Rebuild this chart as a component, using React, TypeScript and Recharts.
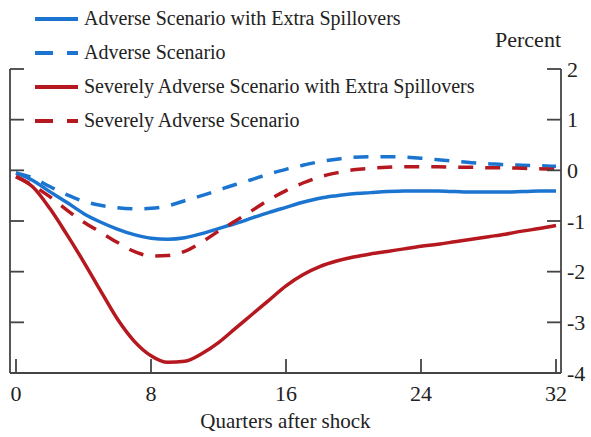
import React from "react";
import { LineChart, Line, XAxis, YAxis, Legend, Label } from "recharts";

const quarters = [
  0, 1, 2, 3, 4, 5, 6, 7, 8, 9, 10, 11, 12, 13, 14, 15, 16,
  17, 18, 19, 20, 21, 22, 23, 24, 25, 26, 27, 28, 29, 30, 31, 32,
];

// Adverse Scenario with Extra Spillovers
const adverseExtra = [
  -0.05, -0.2, -0.42, -0.63, -0.85, -1.02, -1.16, -1.27, -1.34, -1.36, -1.33,
  -1.25, -1.15, -1.05, -0.94, -0.83, -0.73, -0.63, -0.55, -0.5, -0.46, -0.44,
  -0.42, -0.41, -0.41, -0.41, -0.42, -0.43, -0.43, -0.43, -0.42, -0.41, -0.41,
];

// Adverse Scenario
const adverse = [
  -0.05, -0.15, -0.32, -0.48, -0.61, -0.69, -0.74, -0.76, -0.75, -0.7, -0.6,
  -0.5, -0.39, -0.28, -0.18, -0.07, 0.02, 0.1, 0.17, 0.22, 0.26, 0.27,
  0.27, 0.26, 0.24, 0.21, 0.18, 0.15, 0.13, 0.11, 0.1, 0.09, 0.08,
];

// Severely Adverse Scenario with Extra Spillovers
const severeExtra = [
  -0.13, -0.33, -0.75, -1.26, -1.8, -2.37, -2.93, -3.37, -3.66, -3.79, -3.77,
  -3.62, -3.4, -3.12, -2.84, -2.56, -2.28, -2.06, -1.9, -1.79, -1.71, -1.65,
  -1.6, -1.55, -1.5, -1.46, -1.41, -1.36, -1.31, -1.26, -1.2, -1.15, -1.09,
];

// Severely Adverse Scenario
const severe = [
  -0.12, -0.3, -0.52, -0.78, -1.02, -1.22, -1.42, -1.6, -1.69, -1.68, -1.6,
  -1.42, -1.2, -1.0, -0.79, -0.58, -0.4, -0.25, -0.13, -0.05, 0.01, 0.04,
  0.06, 0.07, 0.07, 0.07, 0.06, 0.06, 0.05, 0.05, 0.04, 0.03, 0.02,
];

const xTicks = [0, 8, 16, 24, 32];
const yTicks = [-4, -3, -2, -1, 0, 1, 2];

const BLUE = "#1b74d0";
const RED = "#b5181e";
const INK = "#222";
const AXIS = "#444";
const FONT = '"Liberation Serif", "Times New Roman", serif';

const series = [
  { key: "adverseExtra", name: "Adverse Scenario with Extra Spillovers", color: BLUE, dashed: false, axis: "left" },
  { key: "adverse", name: "Adverse Scenario", color: BLUE, dashed: true, axis: "left" },
  { key: "severeExtra", name: "Severely Adverse Scenario with Extra Spillovers", color: RED, dashed: false, axis: "right" },
  { key: "severe", name: "Severely Adverse Scenario", color: RED, dashed: true, axis: "right" },
];

const data = quarters.map((q, i) => ({
  q,
  adverseExtra: adverseExtra[i],
  adverse: adverse[i],
  severeExtra: severeExtra[i],
  severe: severe[i],
}));

const renderLegend = () => (
  <div style={{ position: "relative", width: 560, height: 140 }}>
    {series.map((s, i) => (
      <div
        key={s.key}
        style={{
          position: "absolute",
          left: 35,
          top: 1.5 + i * 34,
          height: 34,
          display: "flex",
          alignItems: "center",
          whiteSpace: "nowrap",
          fontFamily: FONT,
          fontSize: 20,
          color: INK,
        }}
      >
        <svg width={43} height={8} style={{ marginRight: 6 }}>
          <line
            x1={0}
            y1={4}
            x2={43}
            y2={4}
            stroke={s.color}
            strokeWidth={4}
            strokeDasharray={s.dashed ? "18 14" : undefined}
          />
        </svg>
        <span>{s.name}</span>
      </div>
    ))}
  </div>
);

const PercentLabel = (props: any) => {
  const vb = props.viewBox || { x: 561, y: 69 };
  return (
    <text x={vb.x} y={vb.y - 22} textAnchor="end" fill={INK} fontSize={22} fontFamily={FONT}>
      Percent
    </text>
  );
};

// left axis keeps its tick marks but shows no numbers
const NoTickText = () => <g />;

export default function App() {
  return (
    <div style={{ position: "absolute", left: 0, top: 0, width: 591, height: 437, background: "#fff" }}>
      <LineChart width={591} height={437} data={data} margin={{ top: 69, right: 0, bottom: 0, left: 0 }}>
        <XAxis
          dataKey="q"
          type="number"
          domain={[0, 32]}
          ticks={xTicks}
          padding={{ left: 6, right: 5 }}
          height={64}
          stroke={AXIS}
          strokeWidth={1.8}
          tickSize={-14}
          tickMargin={26}
          tick={{ fill: INK, fontSize: 22, fontFamily: FONT }}
        >
          <Label
            value="Quarters after shock"
            position="insideBottom"
            offset={9}
            fill={INK}
            fontSize={21}
            fontFamily={FONT}
          />
        </XAxis>
        <YAxis
          yAxisId="left"
          orientation="left"
          width={10}
          domain={[-4, 2]}
          ticks={yTicks}
          stroke={AXIS}
          strokeWidth={1.8}
          tickSize={-14}
          tick={<NoTickText />}
        />
        <YAxis
          yAxisId="right"
          orientation="right"
          width={30}
          domain={[-4, 2]}
          ticks={yTicks}
          stroke={AXIS}
          strokeWidth={1.8}
          tickSize={-14}
          tickMargin={20}
          tick={{ fill: INK, fontSize: 22, fontFamily: FONT, textAnchor: "start" }}
        >
          <Label content={<PercentLabel />} />
        </YAxis>
        <Legend
          layout="vertical"
          align="center"
          verticalAlign="middle"
          content={renderLegend}
          wrapperStyle={{ left: 0, top: 0, width: 560, height: 140 }}
        />
        {series.map((s) => (
          <Line
            key={s.key}
            yAxisId={s.axis}
            dataKey={s.key}
            name={s.name}
            type="monotone"
            stroke={s.color}
            strokeWidth={3.5}
            strokeDasharray={s.dashed ? "15 12" : undefined}
            dot={false}
            activeDot={false}
            isAnimationActive={false}
          />
        ))}
      </LineChart>
    </div>
  );
}
